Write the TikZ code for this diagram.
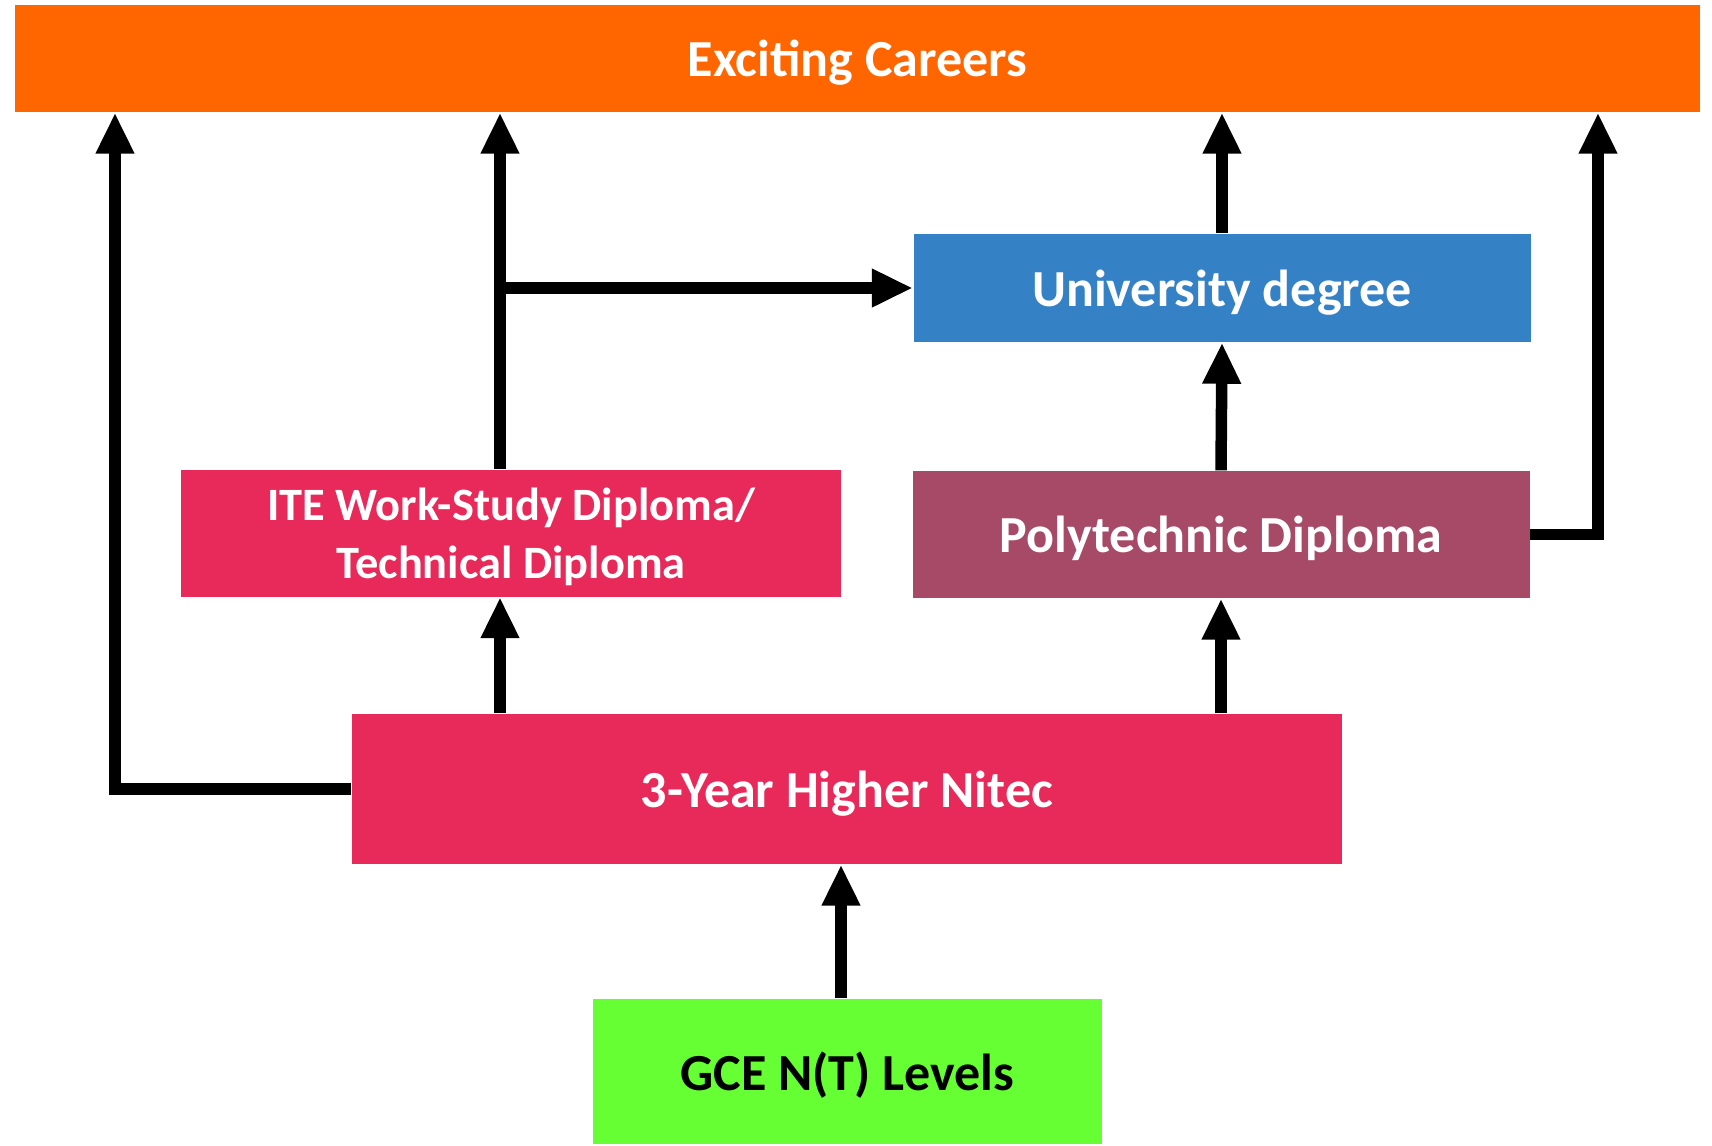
\documentclass[tikz,border=0pt]{standalone}
\usepackage{fontspec}
\setmainfont{Carlito}
\usetikzlibrary{positioning}
\usetikzlibrary{arrows.meta}
\definecolor{careerorange}{HTML}{FF6600}
\definecolor{unblue}{HTML}{3581C5}
\definecolor{itered}{HTML}{E72A5A}
\definecolor{polyplum}{HTML}{A64A68}
\definecolor{gcegreen}{HTML}{66FF33}
\tikzset{box/.style={rectangle, inner sep=0pt, text depth=0pt, text=white, font=\fontsize{14.8}{18}\selectfont\bfseries}}
\tikzset{arr/.style={line width=1.15mm, -{Triangle[width=3.6mm,length=4.1mm]}}}

\begin{document}
\begin{tikzpicture}
\useasboundingbox (0,0) rectangle (17.12,-11.45);
\node[box, fill=careerorange, minimum width=16.85cm, minimum height=1.07cm] (careers) at (8.575,-0.585) {Exciting Careers};
\node[box, fill=unblue, minimum width=6.17cm, minimum height=1.08cm] (uni) at (12.22,-2.88) {University degree};
\node[box, fill=itered, minimum width=6.6cm, minimum height=1.27cm, align=center, font=\fontsize{13.2}{16.5}\selectfont\bfseries] (ite) at (5.11,-5.33) {ITE Work-Study Diploma/\\Technical Diploma};
\node[box, fill=polyplum, minimum width=6.17cm, minimum height=1.27cm] (poly) at (12.21,-5.345) {Polytechnic Diploma};
\node[box, fill=itered, minimum width=9.9cm, minimum height=1.5cm] (nitec) at (8.47,-7.89) {3-Year Higher Nitec};
\node[box, fill=gcegreen, text=black, minimum width=5.09cm, minimum height=1.45cm] (gce) at (8.475,-10.715) {GCE N(T) Levels};

\coordinate (lcol) at (1.15,0);
\coordinate (itecol) at (5.0,0);
\coordinate (midcol) at (8.41,0);
\coordinate (rcol) at (15.98,0);

\draw[arr] (gce.north -| midcol) -- (nitec.south -| midcol);
\draw[arr] (nitec.west) -| (careers.south -| lcol);
\draw[arr] (nitec.north -| itecol) -- (ite.south -| itecol);
\draw[arr] (ite.north -| itecol) -- (careers.south -| itecol);
\draw[arr] (itecol |- uni.west) -- (uni.west);
\draw[arr] (nitec.north -| poly.north) -- (poly.south);
\draw[arr] (poly.north) -- (uni.south);
\draw[arr] (uni.north) -- (careers.south -| uni.north);
\draw[arr] (poly.east) -| (careers.south -| rcol);
\end{tikzpicture}
\end{document}
